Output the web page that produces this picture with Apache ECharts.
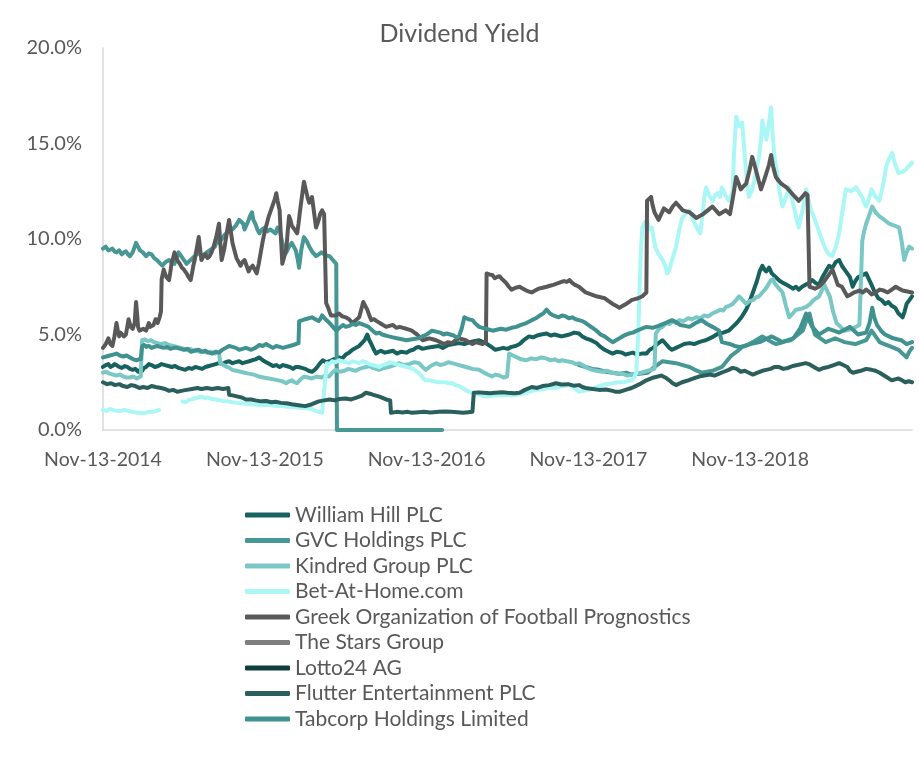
<!DOCTYPE html>
<html><head><meta charset="utf-8">
<script src="https://cdn.jsdelivr.net/npm/echarts@6/dist/echarts.min.js"></script>
<style>html,body{margin:0;padding:0;background:#fff}#c{width:919px;height:759px}</style>
</head><body><div id="c"></div>
<script>
// x = months since Nov-13-2014, y = dividend yield in %
const xTickLabels = ['Nov-13-2014','Nov-13-2015','Nov-13-2016','Nov-13-2017','Nov-13-2018'];
const seriesNames = ['William Hill PLC','GVC Holdings PLC','Kindred Group PLC','Bet-At-Home.com','Greek Organization of Football Prognostics','The Stars Group','Lotto24 AG','Flutter Entertainment PLC','Tabcorp Holdings Limited'];
const seriesColors = ['#17625f','#479794','#7ac8c6','#abf7f6','#595959','#7f7f7f','#0f3e3d','#2b5f5d','#3f928f'];

const williamHill = [[0,3.3],[0.2,3.4],[0.4,3.45],[0.55,3.3],[0.7,3.35],[0.85,3.45],[1.0,3.4],[1.2,3.3],[1.4,3.25],[1.6,3.35],[1.8,3.3],[2.0,3.2],[2.2,3.15],[2.4,3.2],[2.6,3.05],[2.75,3.15],[2.9,3.1],[3.05,3.25],[3.2,3.3],[3.4,3.45],[3.6,3.4],[3.85,3.3],[4.1,3.35],[4.35,3.45],[4.6,3.4],[4.85,3.35],[5.1,3.3],[5.35,3.35],[5.6,3.25],[5.85,3.2],[6.1,3.15],[6.35,3.25],[6.6,3.2],[6.85,3.3],[7.1,3.25],[7.35,3.2],[7.6,3.3],[7.85,3.35],[8.1,3.4],[8.35,3.45],[8.6,3.5],[8.85,3.45],[9.1,3.55],[9.35,3.6],[9.6,3.5],[9.85,3.55],[10.1,3.6],[10.35,3.5],[10.6,3.55],[10.85,3.6],[11.05,3.65],[11.3,3.7],[11.6,3.8],[11.85,3.65],[12.1,3.55],[12.35,3.45],[12.6,3.35],[12.85,3.4],[13.1,3.3],[13.35,3.4],[13.6,3.35],[13.85,3.3],[14.1,3.2],[14.3,3.3],[14.5,3.3],[14.75,3.25],[15.0,3.2],[15.25,3.1],[15.5,3.05],[15.7,3.15],[15.9,3.3],[16.1,3.5],[16.3,3.65],[16.55,3.55],[16.8,3.6],[17.1,3.7],[17.5,3.8],[17.75,3.75],[18.0,3.95],[18.25,4.05],[18.5,4.2],[18.75,4.3],[19.0,4.4],[19.2,4.55],[19.4,4.7],[19.6,5.0],[19.75,4.7],[19.9,4.5],[20.1,4.2],[20.25,4.0],[20.45,4.1],[20.6,4.15],[20.9,4.05],[21.2,4.1],[21.5,4.15],[21.8,4.0],[22.1,4.1],[22.5,4.05],[22.75,4.15],[23.0,4.2],[23.2,4.3],[23.4,4.35],[23.7,4.25],[24.0,4.3],[24.4,4.35],[24.9,4.4],[25.2,4.3],[25.6,4.45],[26.0,4.5],[26.4,4.55],[26.8,4.5],[27.2,4.6],[27.5,4.65],[27.9,4.7],[28.2,4.6],[28.5,4.5],[28.8,4.35],[29.1,4.2],[29.4,4.25],[29.7,4.3],[30.0,4.25],[30.3,4.35],[30.6,4.4],[30.9,4.5],[31.2,4.7],[31.6,4.9],[31.9,4.85],[32.2,4.95],[32.5,5.0],[32.9,5.05],[33.2,4.95],[33.5,5.0],[33.75,4.95],[34.0,4.9],[34.3,4.95],[34.6,5.0],[34.95,5.1],[35.3,5.05],[35.55,4.9],[35.8,4.8],[36.2,4.7],[36.6,4.55],[36.9,4.35],[37.2,4.2],[37.5,4.1],[37.8,4.0],[38.1,4.1],[38.5,4.05],[38.75,3.95],[39.0,4.0],[39.3,4.05],[39.6,3.95],[39.95,4.0],[40.3,4.0],[40.55,4.2],[40.8,4.3],[41.1,4.5],[41.5,4.7],[41.75,4.5],[42.0,4.3],[42.2,4.2],[42.5,4.3],[42.8,4.4],[43.1,4.5],[43.5,4.55],[43.85,4.5],[44.2,4.6],[44.45,4.65],[44.7,4.7],[45.0,4.8],[45.3,4.9],[45.5,5.0],[45.7,5.05],[46.0,5.1],[46.4,5.2],[46.7,5.4],[47.0,5.6],[47.35,5.9],[47.7,6.3],[47.95,6.7],[48.2,7.2],[48.5,7.8],[48.7,8.3],[48.9,8.6],[49.05,8.4],[49.2,8.3],[49.4,8.5],[49.6,8.2],[49.9,8.0],[50.2,7.8],[50.45,7.7],[50.7,7.6],[50.95,7.5],[51.2,7.4],[51.4,7.5],[51.6,7.35],[51.85,7.5],[52.1,7.6],[52.35,7.7],[52.6,7.85],[52.85,7.7],[53.1,7.6],[53.35,8.0],[53.6,8.3],[53.85,8.6],[54.1,8.5],[54.35,8.8],[54.6,8.9],[54.8,8.6],[55.0,8.4],[55.2,8.2],[55.4,8.0],[55.6,7.5],[55.8,7.8],[56.0,8.0],[56.3,8.1],[56.6,8.2],[56.8,7.9],[57.0,7.6],[57.25,7.2],[57.5,6.9],[57.75,6.8],[58.0,6.6],[58.25,6.7],[58.5,6.5],[58.75,6.4],[59.0,6.1],[59.15,6.0],[59.3,5.9],[59.45,6.2],[59.6,6.6],[59.8,6.8],[60,7.0]];

const gvcHoldings = [[0,9.5],[0.2,9.6],[0.4,9.4],[0.55,9.45],[0.7,9.5],[0.85,9.35],[1.0,9.3],[1.2,9.4],[1.4,9.2],[1.55,9.3],[1.7,9.35],[1.85,9.2],[2.0,9.1],[2.2,9.3],[2.45,9.8],[2.6,9.6],[2.75,9.4],[2.95,9.3],[3.2,9.1],[3.4,9.25],[3.6,9.2],[3.8,9.0],[4.0,8.9],[4.2,8.75],[4.4,8.6],[4.65,8.8],[4.9,8.9],[5.1,8.8],[5.3,8.7],[5.45,9.0],[5.6,9.3],[5.75,9.15],[5.9,9.0],[6.05,8.85],[6.2,8.7],[6.35,8.8],[6.5,8.9],[6.8,9.1],[7.1,9.3],[7.3,9.1],[7.5,9.2],[7.7,9.3],[7.9,9.4],[8.1,9.5],[8.3,9.6],[8.45,9.9],[8.6,9.8],[8.8,10.0],[9.0,10.2],[9.3,10.4],[9.6,10.5],[9.85,10.7],[10.1,11.0],[10.25,10.9],[10.4,10.8],[10.5,10.5],[10.6,10.6],[10.75,10.9],[10.9,11.2],[11.05,11.4],[11.15,11.0],[11.3,10.8],[11.45,10.5],[11.6,10.3],[11.8,10.5],[12.0,10.6],[12.2,10.4],[12.4,10.5],[12.6,10.4],[12.8,10.3],[12.95,10.6],[13.1,10.5],[13.3,9.8],[13.45,9.5],[13.6,9.3],[13.8,9.6],[14.0,9.8],[14.15,9.6],[14.3,9.4],[14.45,8.9],[14.54,8.5],[14.7,9.4],[14.9,10.1],[15.1,9.9],[15.3,9.6],[15.55,9.3],[15.8,9.1],[16.0,9.2],[16.2,9.3],[16.5,9.15],[16.8,9.1],[17.05,8.9],[17.3,8.7],[17.35,0],[25.15,0],[25.2,null],
[35.3,3.4],[35.8,3.3],[36.3,3.2],[36.8,3.15],[37.3,3.05],[37.8,3.0],[38.3,2.95],[38.8,3.0],[39.2,2.9],[39.8,2.95],[40.4,3.0],[40.65,3.15],[40.9,3.3],[41.2,3.45],[41.5,3.6],[42.0,3.55],[42.5,3.5],[43.0,3.4],[43.5,3.3],[43.9,3.15],[44.4,3.0],[44.8,3.05],[45.2,3.1],[45.55,3.2],[45.9,3.3],[46.25,3.6],[46.6,3.9],[47.0,4.1],[47.4,4.35],[47.8,4.45],[48.2,4.6],[48.55,4.75],[48.9,4.9],[49.25,4.75],[49.6,4.6],[49.9,4.5],[50.2,4.55],[50.6,4.65],[51.0,4.7],[51.45,4.95],[51.9,5.2],[52.15,5.7],[52.4,6.1],[52.6,5.5],[52.8,5.0],[53.2,4.8],[53.6,4.6],[53.95,4.7],[54.3,4.8],[54.65,4.7],[55.0,4.6],[55.4,4.55],[55.8,4.5],[56.2,4.6],[56.6,4.7],[56.8,4.95],[57.0,5.2],[57.3,4.9],[57.6,4.6],[57.95,4.5],[58.3,4.4],[58.65,4.3],[59.0,4.2],[59.3,4.0],[59.6,3.8],[59.8,4.1],[60,4.3]];

const kindredGroup = [[0,3.0],[0.25,3.05],[0.5,2.95],[0.75,2.9],[1.0,2.85],[1.25,2.9],[1.5,2.8],[1.75,2.75],[2.0,2.75],[2.25,2.8],[2.5,2.7],[2.65,2.75],[2.8,2.8],[2.9,4.7],[3.1,4.75],[3.3,4.65],[3.55,4.7],[3.8,4.6],[4.05,4.55],[4.3,4.5],[4.6,4.55],[4.9,4.45],[5.2,4.4],[5.5,4.35],[5.8,4.3],[6.16,4.2],[6.45,4.25],[6.7,4.15],[6.9,4.2],[7.12,4.1],[7.4,4.1],[7.7,4.05],[8.0,4.1],[8.3,4.0],[8.45,4.05],[8.61,4.0],[8.7,3.5],[8.95,3.4],[9.2,3.3],[9.4,3.25],[9.57,3.15],[9.9,3.1],[10.2,3.05],[10.5,3.0],[10.8,2.95],[11.2,2.9],[11.57,2.8],[11.9,2.75],[12.3,2.7],[12.65,2.65],[13.0,2.6],[13.3,2.55],[13.58,2.45],[13.8,2.55],[14.02,2.6],[14.2,2.5],[14.39,2.45],[14.65,2.65],[14.91,2.8],[15.2,2.75],[15.5,2.7],[15.85,2.8],[16.2,2.75],[16.5,2.85],[16.77,2.8],[17.0,3.0],[17.28,3.15],[17.6,3.05],[17.9,3.1],[18.2,3.2],[18.47,3.15],[18.75,3.1],[19.0,3.2],[19.25,3.25],[19.51,3.3],[19.75,3.35],[20.0,3.25],[20.25,3.2],[20.47,3.15],[20.85,3.25],[21.22,3.3],[21.6,3.4],[21.96,3.5],[22.3,3.4],[22.7,3.45],[23.1,3.55],[23.44,3.5],[23.7,3.3],[23.96,3.15],[24.3,3.35],[24.7,3.5],[25.0,3.4],[25.3,3.45],[25.6,3.55],[25.89,3.5],[26.15,3.45],[26.4,3.4],[26.65,3.35],[26.93,3.3],[27.4,3.2],[27.89,3.15],[28.4,2.95],[28.86,2.8],[29.1,2.9],[29.4,2.85],[29.7,2.75],[29.97,2.8],[30.12,4.0],[30.4,3.9],[30.7,3.8],[31.0,3.7],[31.38,3.65],[31.75,3.75],[32.1,3.7],[32.5,3.8],[32.86,3.75],[33.2,3.65],[33.5,3.7],[33.8,3.6],[34.05,3.65],[34.4,3.6],[34.8,3.55],[35.05,3.45],[35.31,3.5],[35.55,3.4],[35.8,3.3],[36.05,3.2],[36.28,3.15],[36.6,3.1],[37.0,3.05],[37.4,3.1],[37.76,3.0],[38.1,2.95],[38.5,2.95],[38.9,2.85],[39.24,2.9],[39.55,2.95],[39.9,3.0],[40.15,3.05],[40.4,3.1],[40.65,3.15],[40.9,3.2],[41.0,5.05],[41.25,5.3],[41.5,5.4],[41.77,5.6],[42.0,5.55],[42.3,5.7],[42.5,5.6],[42.73,5.75],[43.05,5.7],[43.4,5.85],[43.7,5.8],[43.99,5.9],[44.3,5.85],[44.6,6.0],[44.9,5.95],[45.18,6.1],[45.5,6.2],[45.8,6.3],[46.0,6.25],[46.22,6.45],[46.45,6.5],[46.7,6.6],[46.95,6.8],[47.18,7.0],[47.45,6.8],[47.7,6.6],[47.95,6.75],[48.2,6.8],[48.45,6.95],[48.66,7.0],[48.9,7.2],[49.1,7.35],[49.25,7.5],[49.41,7.7],[49.55,7.85],[49.7,7.9],[49.8,7.7],[49.93,7.6],[50.15,7.4],[50.4,7.2],[50.65,6.5],[50.89,5.9],[51.15,6.1],[51.4,6.3],[51.8,6.35],[52.15,6.45],[52.45,6.6],[52.7,6.8],[52.9,6.9],[53.12,7.0],[53.3,7.3],[53.5,7.6],[53.7,7.3],[53.9,7.0],[54.15,6.2],[54.4,5.6],[54.7,5.4],[55.0,5.2],[55.3,5.25],[55.6,5.3],[55.85,5.4],[56.1,5.5],[56.2,7.5],[56.31,9.9],[56.45,10.4],[56.6,10.8],[56.8,11.2],[57.05,11.7],[57.3,11.4],[57.57,11.2],[57.95,11.0],[58.31,10.8],[58.7,10.7],[59.05,10.6],[59.25,9.8],[59.42,8.9],[59.6,9.3],[59.79,9.6],[60,9.5]];

const betAtHome = [[0,1.05],[0.25,1.0],[0.5,1.1],[0.75,1.05],[1.0,1.0],[1.3,1.0],[1.6,1.05],[1.9,1.0],[2.2,0.95],[2.5,0.9],[2.8,0.9],[3.1,0.88],[3.4,0.95],[3.7,0.95],[4.0,1.0],[4.15,1.05],[4.2,null],[5.9,1.5],[6.1,1.45],[6.3,1.55],[6.55,1.6],[6.8,1.65],[7.05,1.7],[7.3,1.75],[7.55,1.68],[7.8,1.7],[8.1,1.62],[8.4,1.6],[8.7,1.55],[9.0,1.5],[9.3,1.5],[9.6,1.45],[9.95,1.42],[10.3,1.4],[10.65,1.38],[11.0,1.35],[11.35,1.33],[11.7,1.3],[12.1,1.32],[12.5,1.3],[12.9,1.26],[13.3,1.25],[13.65,1.22],[14.0,1.2],[14.4,1.18],[14.8,1.15],[15.15,1.12],[15.5,1.1],[15.75,1.0],[16.0,0.95],[16.25,0.9],[16.6,3.5],[16.8,3.45],[17.0,3.6],[17.25,3.55],[17.5,3.65],[17.75,3.6],[18.0,3.55],[18.25,3.5],[18.5,3.6],[18.75,3.55],[19.0,3.5],[19.25,3.6],[19.5,3.55],[19.75,3.45],[20.0,3.4],[20.25,3.35],[20.5,3.3],[20.75,3.4],[21.0,3.45],[21.25,3.55],[21.5,3.5],[21.75,3.45],[22.0,3.4],[22.25,3.35],[22.5,3.3],[22.75,3.25],[23.0,3.2],[23.2,3.1],[23.4,3.0],[23.65,2.8],[23.9,2.6],[24.2,2.6],[24.5,2.55],[24.95,2.5],[25.4,2.5],[25.65,2.45],[25.9,2.45],[26.15,2.35],[26.4,2.3],[26.65,2.2],[26.9,2.1],[27.15,2.0],[27.4,1.95],[27.65,1.9],[27.9,1.85],[28.15,1.8],[28.4,1.75],[28.7,1.78],[29.0,1.8],[29.45,1.82],[29.9,1.85],[30.3,1.8],[30.7,1.85],[31.05,1.9],[31.4,1.95],[31.85,2.05],[32.3,2.1],[32.65,2.15],[33.0,2.2],[33.4,2.2],[33.8,2.25],[34.2,2.3],[34.6,2.35],[34.95,2.2],[35.3,2.0],[35.65,2.05],[36.0,2.1],[36.4,2.2],[36.8,2.3],[37.3,2.4],[37.8,2.45],[38.2,2.5],[38.6,2.5],[38.9,2.55],[39.2,2.6],[39.4,2.75],[39.55,3.0],[39.7,5.0],[39.8,7.5],[39.9,9.5],[40.0,10.6],[40.2,10.9],[40.4,10.8],[40.55,10.5],[40.7,10.6],[40.85,10.0],[41.0,9.5],[41.15,9.3],[41.3,9.1],[41.5,8.9],[41.7,8.6],[41.85,8.2],[42.0,8.4],[42.25,9.0],[42.5,9.6],[42.75,10.5],[42.95,11.1],[43.2,11.3],[43.5,11.5],[43.7,11.1],[43.9,10.8],[44.1,10.5],[44.3,10.3],[44.4,10.9],[44.5,11.5],[44.6,12.2],[44.73,12.7],[44.95,12.3],[45.2,12.0],[45.4,12.3],[45.6,12.4],[45.75,12.2],[45.9,12.7],[46.15,12.3],[46.4,12.0],[46.55,12.2],[46.7,12.5],[46.8,14.5],[46.96,16.4],[47.2,15.9],[47.4,16.1],[47.55,14.8],[47.7,13.45],[47.9,12.2],[48.1,12.5],[48.3,13.0],[48.5,13.8],[48.66,14.3],[48.8,15.2],[48.9,16.2],[49.05,15.7],[49.2,15.2],[49.35,15.9],[49.55,16.9],[49.65,15.6],[49.8,14.3],[50.0,13.5],[50.15,12.6],[50.3,12.0],[50.4,11.7],[50.65,12.2],[50.9,12.7],[51.1,12.1],[51.3,11.5],[51.45,11.0],[51.6,10.6],[51.9,11.6],[52.15,12.6],[52.35,12.0],[52.5,11.5],[52.7,11.2],[52.9,10.8],[53.1,10.4],[53.3,10.0],[53.45,9.7],[53.64,9.4],[53.85,9.2],[54.08,9.1],[54.35,9.6],[54.6,10.3],[54.85,11.5],[55.1,12.6],[55.5,12.5],[55.86,12.7],[56.1,12.4],[56.3,12.2],[56.45,11.9],[56.6,11.7],[56.8,12.1],[57.0,12.6],[57.3,12.2],[57.57,12.0],[57.85,12.8],[58.09,13.8],[58.3,14.2],[58.53,14.5],[58.75,13.9],[59.0,13.45],[59.25,13.5],[59.5,13.6],[59.75,13.8],[60,14.0]];

const greekOpap = [[0,4.3],[0.2,4.5],[0.4,4.8],[0.55,4.5],[0.7,4.4],[0.85,4.9],[1.0,5.6],[1.1,5.2],[1.2,4.9],[1.3,5.1],[1.4,5.2],[1.55,4.9],[1.7,5.0],[1.8,5.4],[1.9,5.8],[2.05,5.4],[2.2,5.3],[2.35,5.6],[2.45,6.7],[2.55,5.9],[2.6,5.4],[2.7,5.2],[2.8,5.1],[3.0,5.3],[3.2,5.2],[3.3,5.4],[3.4,5.6],[3.5,5.4],[3.6,5.3],[3.75,5.5],[3.9,5.8],[4.05,5.6],[4.2,5.9],[4.3,6.2],[4.35,7.9],[4.5,8.4],[4.6,8.2],[4.7,8.0],[4.8,7.9],[4.9,7.85],[5.0,8.3],[5.1,8.8],[5.2,9.0],[5.3,9.3],[5.4,9.1],[5.5,8.9],[5.6,8.8],[5.7,8.7],[5.85,8.5],[6.0,8.4],[6.1,8.3],[6.2,8.2],[6.35,8.0],[6.5,7.85],[6.6,8.2],[6.7,8.6],[6.8,8.9],[6.9,9.3],[7.0,9.7],[7.1,10.1],[7.2,9.5],[7.3,8.9],[7.45,9.1],[7.6,9.2],[7.75,9.0],[7.9,9.1],[8.05,9.3],[8.2,9.6],[8.4,10.1],[8.6,10.8],[8.7,9.8],[8.8,8.9],[8.9,9.2],[9.0,9.5],[9.2,10.4],[9.35,11.0],[9.5,10.3],[9.6,9.8],[9.75,9.4],[9.9,9.0],[10.05,8.8],[10.2,8.6],[10.35,8.8],[10.5,8.9],[10.65,8.6],[10.8,8.3],[10.95,8.5],[11.1,8.6],[11.25,8.4],[11.4,8.2],[11.55,8.7],[11.7,9.3],[11.85,9.9],[12.0,10.4],[12.15,10.8],[12.3,11.2],[12.45,11.5],[12.6,11.8],[12.75,12.1],[12.85,12.4],[12.95,12.0],[13.1,11.5],[13.2,10.0],[13.3,8.7],[13.45,9.1],[13.6,9.5],[13.7,10.4],[13.8,11.2],[13.9,11.0],[14.0,10.7],[14.2,10.5],[14.4,10.3],[14.5,10.8],[14.6,11.4],[14.75,12.2],[14.9,13.0],[15.0,12.7],[15.1,12.4],[15.2,12.1],[15.3,11.9],[15.4,12.0],[15.5,12.2],[15.65,11.4],[15.8,10.6],[15.9,10.8],[16.0,11.0],[16.1,11.3],[16.25,11.5],[16.4,11.3],[16.5,11.2],[16.55,6.65],[16.7,6.4],[16.8,6.2],[16.9,6.0],[17.0,5.9],[17.25,6.0],[17.5,6.1],[17.75,5.95],[18.0,5.9],[18.25,5.8],[18.5,5.6],[18.75,5.75],[19.0,5.9],[19.15,6.3],[19.3,6.7],[19.45,6.5],[19.6,6.3],[19.75,6.0],[19.9,5.75],[20.1,5.8],[20.3,5.7],[20.65,5.55],[21.0,5.4],[21.25,5.45],[21.5,5.5],[21.75,5.35],[22.0,5.4],[22.25,5.35],[22.5,5.3],[22.7,5.25],[22.9,5.2],[23.1,5.1],[23.3,5.0],[23.5,4.85],[23.7,4.7],[23.95,4.75],[24.2,4.8],[24.45,4.75],[24.7,4.7],[25.0,4.6],[25.3,4.5],[25.6,4.6],[25.9,4.55],[26.15,4.7],[26.4,4.8],[26.65,4.75],[26.9,4.7],[27.15,4.6],[27.4,4.5],[27.65,4.6],[27.9,4.55],[28.15,4.5],[28.4,4.6],[28.45,8.2],[28.65,8.15],[28.9,8.1],[29.05,7.95],[29.2,8.0],[29.4,8.05],[29.6,7.9],[29.75,7.8],[29.9,7.7],[30.1,7.5],[30.3,7.35],[30.6,7.45],[30.9,7.5],[31.15,7.4],[31.4,7.3],[31.6,7.25],[31.8,7.2],[32.05,7.3],[32.3,7.4],[32.6,7.45],[32.9,7.5],[33.15,7.55],[33.4,7.6],[33.6,7.65],[33.8,7.7],[34.0,7.75],[34.2,7.8],[34.4,7.75],[34.6,7.85],[34.8,7.7],[35.0,7.6],[35.15,7.55],[35.3,7.5],[35.55,7.35],[35.8,7.2],[36.2,7.1],[36.6,7.0],[36.9,6.95],[37.2,6.9],[37.5,6.75],[37.8,6.6],[38.05,6.5],[38.3,6.4],[38.55,6.5],[38.8,6.6],[39.0,6.7],[39.2,6.8],[39.45,6.85],[39.7,6.9],[40.0,7.0],[40.3,7.2],[40.35,12.0],[40.5,12.1],[40.65,12.2],[40.75,11.8],[40.9,11.4],[41.05,11.2],[41.2,11.0],[41.4,11.3],[41.6,11.6],[41.8,11.5],[42.0,11.4],[42.25,11.7],[42.5,11.9],[42.75,11.7],[43.0,11.5],[43.25,11.45],[43.5,11.4],[43.75,11.25],[44.0,11.1],[44.25,11.2],[44.5,11.3],[44.85,11.5],[45.2,11.7],[45.45,11.5],[45.7,11.3],[45.95,11.4],[46.2,11.5],[46.35,11.4],[46.5,11.3],[46.75,12.3],[46.96,13.25],[47.15,12.9],[47.3,12.6],[47.5,12.75],[47.7,12.9],[47.95,13.6],[48.15,14.3],[48.35,13.8],[48.5,13.4],[48.65,13.0],[48.8,12.6],[49.0,13.0],[49.2,13.45],[49.4,13.9],[49.55,14.4],[49.7,13.8],[49.9,13.25],[50.1,13.05],[50.3,12.9],[50.5,12.8],[50.7,12.7],[50.95,12.5],[51.2,12.3],[51.4,12.15],[51.6,12.0],[51.85,12.2],[52.1,12.4],[52.25,12.3],[52.35,12.2],[52.4,7.5],[52.6,7.45],[52.8,7.4],[52.95,7.45],[53.1,7.5],[53.3,7.65],[53.5,7.8],[53.8,8.1],[54.1,8.4],[54.3,8.0],[54.5,7.6],[54.65,7.55],[54.8,7.5],[55.0,7.25],[55.2,7.0],[55.45,7.1],[55.7,7.2],[55.9,7.25],[56.1,7.3],[56.35,7.2],[56.6,7.35],[56.8,7.25],[57.0,7.1],[57.3,7.2],[57.6,7.35],[57.9,7.3],[58.2,7.2],[58.5,7.35],[58.8,7.5],[59.05,7.4],[59.3,7.3],[59.65,7.25],[60,7.2]];

const starsGroup = [];
const lotto24 = [];

const flutter = [[0,2.5],[0.3,2.4],[0.6,2.45],[0.9,2.35],[1.2,2.4],[1.5,2.3],[1.8,2.25],[2.1,2.35],[2.4,2.3],[2.7,2.2],[3.0,2.25],[3.3,2.2],[3.6,2.3],[3.9,2.25],[4.3,2.2],[4.6,2.15],[4.9,2.05],[5.2,2.1],[5.5,2.0],[5.8,2.05],[6.2,2.1],[6.6,2.15],[7.0,2.2],[7.3,2.15],[7.7,2.2],[8.1,2.15],[8.5,2.2],[8.9,2.15],[9.3,2.2],[9.35,1.85],[9.7,1.8],[10.0,1.75],[10.3,1.7],[10.6,1.6],[11.0,1.6],[11.3,1.55],[11.7,1.5],[12.1,1.52],[12.5,1.45],[12.8,1.48],[13.2,1.42],[13.6,1.4],[14.0,1.35],[14.5,1.3],[15.0,1.25],[15.5,1.35],[16.0,1.5],[16.4,1.55],[16.8,1.6],[17.2,1.55],[17.5,1.62],[18.0,1.65],[18.4,1.6],[18.8,1.7],[19.2,1.8],[19.5,1.95],[19.8,1.9],[20.0,1.85],[20.5,1.75],[21.0,1.6],[21.3,1.55],[21.36,0.9],[21.8,0.95],[22.2,0.92],[22.6,0.95],[22.9,0.9],[23.4,0.93],[23.8,0.95],[24.3,0.92],[24.9,0.95],[25.4,0.97],[25.8,0.95],[26.3,0.93],[26.7,0.9],[27.1,0.93],[27.4,0.95],[27.5,1.95],[27.9,1.97],[28.2,1.95],[28.7,1.92],[29.1,1.95],[29.6,1.98],[30.0,1.95],[30.5,1.93],[30.9,1.95],[31.3,2.1],[31.8,2.25],[32.2,2.2],[32.6,2.3],[33.1,2.35],[33.6,2.45],[34.0,2.38],[34.5,2.4],[34.9,2.32],[35.3,2.35],[35.55,2.25],[35.8,2.2],[36.3,2.15],[36.8,2.1],[37.3,2.12],[37.8,2.05],[38.05,2.0],[38.3,2.0],[38.75,2.1],[39.2,2.2],[39.5,2.3],[39.8,2.4],[40.05,2.5],[40.3,2.6],[40.85,2.75],[41.4,2.85],[41.7,2.75],[42.0,2.6],[42.25,2.45],[42.5,2.35],[42.95,2.5],[43.4,2.6],[43.8,2.7],[44.2,2.8],[44.6,2.85],[45.0,2.9],[45.35,2.85],[45.7,2.95],[46.05,3.05],[46.4,3.15],[46.7,3.25],[47.0,3.2],[47.3,3.05],[47.6,3.1],[47.9,3.0],[48.2,2.9],[48.55,3.0],[48.9,3.1],[49.2,3.15],[49.5,3.2],[49.8,3.3],[50.1,3.3],[50.45,3.2],[50.8,3.25],[51.15,3.35],[51.5,3.4],[51.8,3.45],[52.1,3.5],[52.35,3.45],[52.6,3.35],[52.85,3.25],[53.1,3.15],[53.45,3.25],[53.8,3.3],[54.2,3.4],[54.6,3.5],[54.9,3.4],[55.2,3.3],[55.4,3.1],[55.6,3.0],[55.9,3.05],[56.2,3.1],[56.6,3.2],[57.0,3.15],[57.3,3.1],[57.6,3.0],[58.05,2.8],[58.5,2.6],[58.75,2.65],[59.0,2.7],[59.25,2.6],[59.5,2.5],[59.75,2.55],[60,2.5]];

const tabcorp = [[0,3.8],[0.25,3.85],[0.5,3.9],[0.75,3.95],[1.0,4.0],[1.25,3.9],[1.5,3.85],[1.75,3.9],[2.0,3.8],[2.25,3.7],[2.5,3.65],[2.65,3.7],[2.8,3.7],[2.9,4.4],[3.05,4.45],[3.2,4.35],[3.4,4.4],[3.6,4.3],[3.8,4.35],[4.0,4.4],[4.25,4.35],[4.5,4.3],[4.75,4.35],[5.0,4.25],[5.25,4.3],[5.5,4.3],[5.75,4.25],[6.0,4.2],[6.25,4.25],[6.5,4.1],[6.8,4.15],[7.1,4.2],[7.35,4.1],[7.6,4.15],[7.85,4.05],[8.1,4.0],[8.35,4.1],[8.6,4.05],[8.85,4.2],[9.1,4.3],[9.35,4.4],[9.6,4.35],[9.85,4.3],[10.1,4.2],[10.35,4.25],[10.6,4.3],[10.8,4.25],[11.0,4.2],[11.3,4.3],[11.6,4.45],[11.85,4.4],[12.1,4.5],[12.35,4.4],[12.6,4.3],[12.85,4.4],[13.1,4.35],[13.35,4.3],[13.6,4.35],[13.85,4.4],[14.1,4.45],[14.3,4.5],[14.5,4.55],[14.55,5.7],[14.8,5.75],[15.0,5.8],[15.25,5.85],[15.5,5.9],[15.75,5.8],[16.0,5.7],[16.15,5.85],[16.25,6.0],[16.5,5.8],[16.8,5.6],[17.05,5.4],[17.3,5.2],[17.55,5.35],[17.8,5.5],[18.0,5.4],[18.25,5.45],[18.5,5.55],[18.75,5.5],[19.0,5.6],[19.35,5.5],[19.7,5.4],[20.0,5.2],[20.25,5.05],[20.5,5.1],[20.7,5.0],[20.95,4.95],[21.2,4.9],[21.5,4.85],[21.8,4.8],[22.15,4.75],[22.5,4.7],[22.95,4.75],[23.4,4.8],[23.7,4.9],[24.0,5.0],[24.2,5.1],[24.4,5.2],[24.7,5.15],[25.0,5.1],[25.25,5.0],[25.5,5.05],[25.75,5.0],[26.0,4.95],[26.2,4.85],[26.4,4.9],[26.6,5.3],[26.8,5.9],[27.1,5.8],[27.4,5.75],[27.65,5.55],[27.9,5.4],[28.15,5.35],[28.4,5.3],[28.65,5.25],[28.9,5.2],[29.2,5.25],[29.5,5.3],[29.9,5.25],[30.3,5.35],[30.65,5.4],[31.0,5.5],[31.4,5.6],[31.8,5.75],[32.1,5.85],[32.4,6.0],[32.65,6.1],[32.9,6.3],[33.15,6.1],[33.4,6.0],[33.6,5.95],[33.8,5.9],[34.05,6.0],[34.3,5.95],[34.55,5.85],[34.8,5.9],[35.05,5.8],[35.3,5.75],[35.55,5.7],[35.8,5.6],[36.2,5.4],[36.6,5.2],[36.9,5.0],[37.2,4.9],[37.5,4.75],[37.8,4.6],[38.05,4.7],[38.3,4.8],[38.65,4.95],[39.0,5.05],[39.3,5.1],[39.6,5.2],[39.95,5.3],[40.3,5.4],[40.75,5.35],[41.2,5.45],[41.7,5.6],[42.2,5.75],[42.5,5.65],[42.8,5.5],[43.15,5.45],[43.5,5.4],[43.95,5.6],[44.4,5.75],[44.8,5.55],[45.2,5.4],[45.45,5.3],[45.7,5.2],[45.8,4.9],[45.9,4.6],[46.2,4.55],[46.5,4.5],[46.85,4.4],[47.2,4.35],[47.6,4.4],[48.0,4.5],[48.35,4.55],[48.7,4.6],[49.15,4.75],[49.6,4.9],[50.0,4.75],[50.4,4.6],[50.8,4.7],[51.2,4.8],[51.7,5.3],[52.15,6.1],[52.4,5.7],[52.6,5.4],[52.85,5.2],[53.1,5.0],[53.45,5.15],[53.8,5.3],[54.2,5.2],[54.6,5.1],[55.0,5.25],[55.4,5.4],[55.7,5.2],[56.0,5.0],[56.3,5.05],[56.6,5.1],[56.85,5.6],[57.05,6.4],[57.2,5.9],[57.4,5.5],[57.7,5.2],[58.0,5.0],[58.3,4.9],[58.6,4.8],[58.9,4.75],[59.2,4.7],[59.4,4.6],[59.6,4.5],[59.8,4.55],[60,4.6]];

const seriesData = [williamHill, gvcHoldings, kindredGroup, betAtHome, greekOpap, starsGroup, lotto24, flutter, tabcorp];

const FONT = 'Lato, "Open Sans", sans-serif';
const chart = echarts.init(document.getElementById('c'), null, {renderer: 'canvas'});
chart.setOption({
  animation: false,
  backgroundColor: '#fff',
  title: {text: 'Dividend Yield', left: 'center', top: 16,
    textStyle: {fontFamily: FONT, fontSize: 25, fontWeight: 'normal', color: '#595959'}},
  grid: {left: 103, right: 7, top: 48, bottom: 329, containLabel: false},
  legend: {orient: 'vertical', left: 245, top: 504, padding: 0, itemWidth: 45, itemHeight: 5, itemGap: 3.5,
    icon: 'roundRect', data: seriesNames,
    textStyle: {fontFamily: FONT, fontSize: 21, color: '#595959', lineHeight: 22}},
  xAxis: {type: 'value', min: 0, max: 60, interval: 12,
    axisLine: {show: true, lineStyle: {color: '#d9d9d9', width: 1.5}},
    axisTick: {show: false}, splitLine: {show: false},
    axisLabel: {fontFamily: FONT, fontSize: 19.5, color: '#595959', margin: 20,
      formatter: v => xTickLabels[Math.round(v / 12)] || ''}},
  yAxis: {type: 'value', min: 0, max: 20, interval: 5,
    axisLine: {show: true, lineStyle: {color: '#d9d9d9', width: 1.5}},
    axisTick: {show: false}, splitLine: {show: false},
    axisLabel: {fontFamily: FONT, fontSize: 20, color: '#595959', margin: 21,
      formatter: v => v.toFixed(1) + '%'}},
  series: seriesNames.map((n, i) => ({
    name: n, type: 'line', data: seriesData[i], showSymbol: false, symbol: 'none',
    connectNulls: false, color: seriesColors[i],
    lineStyle: {width: 4, color: seriesColors[i], cap: 'round', join: 'round'}
  }))
});
</script></body></html>
